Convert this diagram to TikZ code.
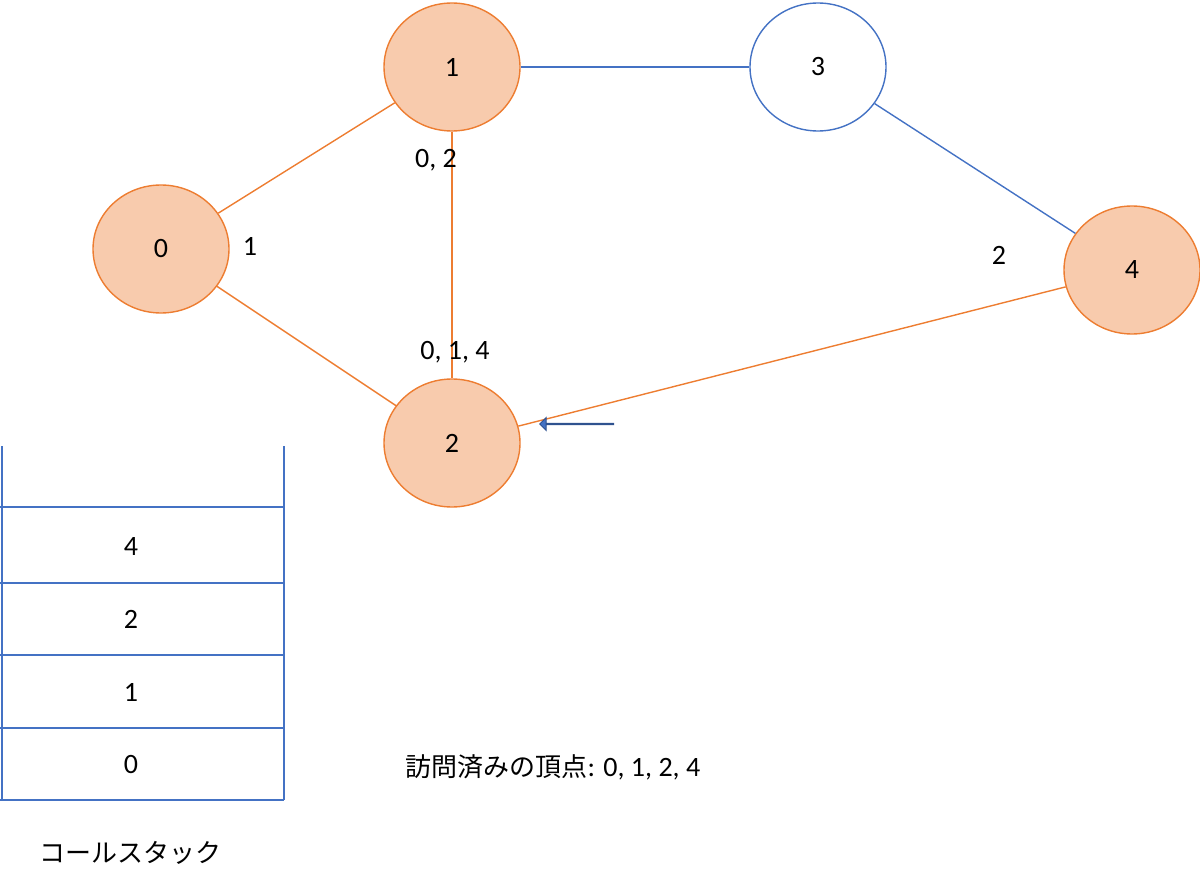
\documentclass[tikz,border=0pt]{standalone}
\usepackage{fontspec}
\setmainfont{Carlito}
\newfontfamily\cjk{Noto Sans CJK JP}
\usetikzlibrary{shapes.geometric,shapes.arrows}
\definecolor{peach}{HTML}{F8CBAD}
\definecolor{edgeorange}{HTML}{ED7D31}
\definecolor{edgeblue}{HTML}{4472C4}
\definecolor{darkblue}{HTML}{2F528F}

\begin{document}
\begin{tikzpicture}[
        x=1pt, y=-1pt,
        every node/.style={font=\fontsize{28}{32}\selectfont},
        vertex/.style={ellipse, draw=edgeorange, line width=1.4pt, fill=peach, minimum width=136pt, minimum height=128pt},
        fresh/.style={vertex, draw=edgeblue, fill=white},
        seen/.style={draw=edgeorange, line width=1.4pt},
        unseen/.style={draw=edgeblue, line width=1.4pt},
        stack/.style={draw=edgeblue, line width=2pt}
    ]
    \useasboundingbox (0,0) rectangle (1200,896);

    % Vertices
    \node[vertex] (v0) at (161,249) {0};
    \node[vertex] (v1) at (452,67) {1};
    \node[fresh]  (v3) at (818,67) {3};
    \node[vertex] (v4) at (1132,270) {4};
    \node[vertex] (v2) at (452,443) {2};

    % Edges
    \draw[seen] (v0) -- (v1);
    \draw[seen] (v0) -- (v2);
    \draw[seen] (v1) -- (v2);
    \draw[seen] (v2) -- (v4);
    \draw[unseen] (v1) -- (v3);
    \draw[unseen] (v3) -- (v4);

    % Adjacency labels
    \node (l0) at (250,246) {1};
    \node (l1) at (436,160) {0, 2};
    \node (l2) at (455,352) {0, 1, 4};
    \node (l4) at (999,255) {2};

    % Pointer
    \node[single arrow, draw=darkblue, fill=edgeblue, shape border rotate=180,
          minimum height=74pt, minimum width=13pt, single arrow head extend=5pt,
          single arrow head indent=0pt, inner sep=0pt, line width=1pt] (ptr) at (577,424) {};

    % Call stack
    \draw[stack] (2,446) -- (2,800) (284,446) -- (284,800);
    \foreach \y in {507,583,655,728,800}
        \draw[stack] (0,\y) -- (284,\y);
    \node (s4) at (131,547) {4};
    \node (s2) at (131,619) {2};
    \node (s1) at (131,692) {1};
    \node (s0) at (131,765) {0};
    \node[anchor=west] (title) at (36,853) {\cjk\fontsize{26}{30}\selectfont コールスタック};
    \node[anchor=west] (visited) at (402,767) {{\cjk\fontsize{26}{30}\selectfont 訪問済みの頂点}: 0, 1, 2, 4};
\end{tikzpicture}
\end{document}
